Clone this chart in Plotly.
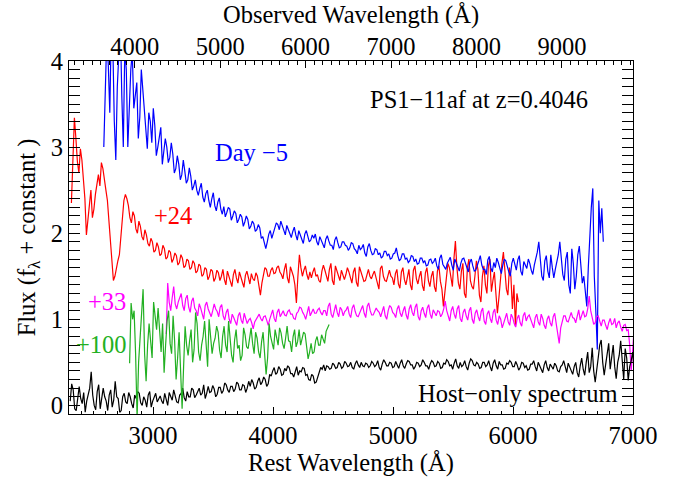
import plotly.graph_objects as go

# ---------------- data ----------------
Z = 0.4046
STEP = 12.5  # Angstrom sampling of the spectra (rest frame)

# rest-frame start wavelengths of each spectrum
blue_start = 2590
red_start = 2320
mag_start = 3110
grn_start = 2805
blk_start = 2310

# fluxes in units of 0.01 (f_lambda + constant); one row = 20 samples = 250 A
blue_flux = [
    300, 380, 430, 395, 340, 440, 420, 330, 285, 370, 430, 445, 360, 300, 415, 390, 300, 350, 390, 410,  # 2590
    345, 360, 375, 310, 335, 390, 365, 340, 320, 298, 340, 330, 305, 345, 325, 290, 300, 315, 323, 280,  # 2840
    295, 310, 300, 282, 288, 305, 292, 270, 275, 290, 280, 262, 268, 285, 272, 258, 262, 276, 266, 250,  # 3090
    255, 262, 250, 244, 252, 258, 242, 236, 246, 250, 238, 230, 240, 247, 232, 226, 236, 241, 228, 222,  # 3340
    231, 219, 224, 230, 228, 215, 220, 226, 223, 212, 216, 222, 219, 208, 213, 220, 216, 205, 208, 214,  # 3590
    211, 202, 204, 210, 206, 194, 196, 188, 182, 190, 199, 203, 194, 200, 206, 212, 210, 204, 214, 208,  # 3840
    203, 198, 209, 204, 199, 195, 202, 207, 198, 192, 203, 199, 193, 188, 199, 203, 196, 190, 192, 198,  # 4090
    194, 199, 190, 186, 196, 192, 188, 183, 193, 197, 191, 186, 186, 181, 192, 196, 189, 183, 184, 190,  # 4340
    190, 186, 185, 180, 183, 189, 188, 182, 180, 176, 186, 181, 183, 187, 177, 173, 184, 188, 180, 175,  # 4590
    176, 182, 181, 175, 177, 171, 173, 179, 179, 174, 176, 170, 171, 176, 177, 183, 174, 168, 170, 176,  # 4840
    176, 170, 171, 166, 168, 174, 173, 167, 170, 164, 165, 171, 171, 166, 168, 162, 163, 169, 170, 165,  # 5090
    167, 171, 162, 158, 171, 175, 164, 160, 158, 165, 168, 172, 163, 157, 170, 166, 161, 156, 165, 170,  # 5340
    171, 165, 160, 155, 166, 170, 162, 156, 157, 164, 168, 174, 163, 158, 158, 152, 169, 173, 160, 155,  # 5590
    166, 160, 171, 166, 158, 153, 163, 170, 168, 160, 155, 150, 165, 171, 162, 157, 169, 174, 156, 151,  # 5840
    167, 162, 159, 170, 165, 157, 152, 163, 170, 178, 190, 168, 150, 145, 168, 174, 156, 148, 175, 160,  # 6090
    148, 158, 166, 175, 190, 165, 152, 145, 170, 178, 140, 130, 182, 165, 135, 150, 175, 185, 160, 142,  # 6340
    150, 135, 115, 160, 198, 230, 252, 150, 110, 65, 238, 200, 229, 190,                                  # 6590
]

red_flux = [
    235, 300, 334, 310, 283, 270, 298, 285, 262, 240, 198, 215, 232, 250, 218, 228, 245, 260, 268, 255,  # 2320
    282, 275, 260, 250, 238, 215, 195, 170, 145, 150, 162, 168, 175, 195, 215, 238, 245, 240, 232, 218,  # 2570
    212, 225, 220, 205, 200, 214, 208, 196, 192, 204, 198, 188, 185, 194, 190, 178, 180, 189, 184, 174,  # 2820
    176, 186, 182, 170, 172, 180, 178, 166, 170, 177, 174, 163, 166, 175, 171, 160, 162, 170, 168, 158,  # 3070
    160, 168, 165, 154, 156, 164, 162, 150, 152, 160, 158, 146, 150, 158, 156, 144, 148, 157, 154, 145,  # 3320
    150, 158, 146, 140, 156, 150, 144, 138, 152, 158, 148, 142, 155, 150, 143, 137, 151, 156, 147, 141,  # 3570
    153, 147, 145, 154, 150, 140, 128, 142, 152, 160, 158, 150, 150, 157, 160, 153, 154, 160, 162, 155,  # 3820
    152, 147, 158, 165, 148, 142, 161, 155, 150, 140, 119, 150, 175, 160, 150, 157, 162, 152, 146, 155,  # 4070
    148, 155, 160, 150, 152, 145, 143, 156, 163, 157, 150, 144, 158, 165, 145, 140, 162, 156, 151, 145,  # 4320
    157, 150, 146, 152, 160, 155, 149, 142, 155, 160, 143, 138, 161, 155, 150, 144, 145, 152, 158, 150,  # 4570
    147, 152, 156, 149, 142, 135, 159, 162, 150, 145, 144, 151, 157, 150, 148, 140, 153, 158, 141, 136,  # 4820
    155, 160, 146, 140, 152, 158, 140, 134, 157, 162, 147, 141, 150, 156, 139, 133, 154, 160, 145, 138,  # 5070
    150, 156, 138, 132, 156, 162, 144, 135, 115, 130, 150, 165, 160, 148, 138, 170, 191, 160, 142, 135,  # 5320
    156, 165, 130, 125, 160, 170, 145, 138, 135, 150, 168, 158, 128, 120, 150, 162, 140, 130, 162, 170,  # 5570
    132, 145, 155, 130, 107, 125, 148, 165, 178, 150, 135, 128, 160, 150, 112, 140, 92, 130, 120,        # 5820
]

mag_flux = [
    83, 142, 120, 110, 125, 138, 118, 112, 120, 126, 130, 116, 110, 124, 128, 114, 108, 121, 125, 113,   # 3110
    110, 104, 118, 113, 106, 100, 116, 120, 112, 106, 103, 110, 118, 112, 109, 103, 114, 117, 104, 99,   # 3360
    108, 112, 100, 95, 106, 102, 97, 93, 104, 108, 99, 95, 107, 102, 95, 99, 101, 96, 89, 97,            # 3610
    100, 104, 106, 101, 98, 103, 104, 99, 93, 100, 106, 111, 101, 97, 108, 112, 103, 107, 110, 105,      # 3860
    104, 109, 111, 106, 106, 101, 100, 107, 109, 114, 113, 108, 105, 100, 110, 115, 104, 109, 112, 107,  # 4110
    107, 111, 113, 108, 105, 110, 110, 104, 115, 119, 106, 102, 112, 117, 108, 103, 114, 111, 104, 109,  # 4360
    111, 115, 106, 102, 113, 117, 109, 104, 103, 108, 112, 116, 107, 102, 115, 119, 110, 105, 105, 110,  # 4610
    113, 110, 108, 103, 111, 115, 104, 100, 110, 116, 114, 108, 106, 102, 112, 116, 107, 103, 110, 115,  # 4860
    105, 100, 112, 117, 108, 104, 114, 118, 103, 99, 110, 114, 107, 102, 113, 117, 106, 101, 111, 107,   # 5110
    104, 110, 109, 103, 106, 112, 121, 110, 103, 98, 110, 115, 106, 101, 112, 116, 101, 97, 108, 112,    # 5360
    104, 99, 110, 114, 100, 95, 107, 111, 103, 98, 109, 113, 98, 94, 106, 110, 101, 96, 108, 112,        # 5610
    99, 94, 104, 100, 90, 96, 103, 107, 97, 93, 106, 102, 95, 91, 101, 105, 96, 92, 104, 108,            # 5860
    98, 103, 105, 99, 94, 90, 102, 106, 97, 93, 106, 101, 93, 89, 100, 104, 96, 92, 103, 107,            # 6110
    95, 85, 72, 90, 99, 104, 104, 98, 97, 103, 108, 102, 101, 96, 106, 111, 99, 104, 110, 103,           # 6360
    104, 112, 127, 110, 100, 94, 96, 103, 104, 97, 92, 99, 99, 93, 88, 96, 101, 94, 95, 101,             # 6610
    90, 96, 98, 91, 86, 93, 94, 87, 88, 70, 40, 65, 90,                                                  # 6860
]

grn_flux = [
    49, 119, 100, 110, 60, -15, 50, 80, 115, 135, 60, 28, 70, 95, 75, 55, 120, 102, 88, 113,  # 2805
    80, 62, 95, 38, 70, 98, 110, 72, 60, 104, 75, 30, 55, 85, 40, -4, 45, 92, 70, 58,         # 3055
    75, 88, 50, 65, 108, 95, 62, 52, 70, 80, 98, 68, 45, 100, 82, 60, 72, 78, 92, 85,         # 3305
    64, 55, 80, 92, 70, 62, 98, 75, 58, 50, 76, 88, 66, 70, 52, 58, 90, 82, 68, 66,           # 3555
    80, 90, 72, 60, 85, 78, 62, 55, 74, 85, 60, 36, 55, 95, 80, 72, 65, 88, 76, 70,           # 3805
    90, 84, 72, 66, 78, 92, 75, 74, 62, 80, 88, 68, 74, 88, 70, 76, 85, 83, 64, 54,           # 4055
    62, 72, 60, 62, 75, 80, 70, 70, 82, 78, 72, 86, 90, 94,                                   # 4305
]

blk_flux = [
    5, 25, 18, -4, -6, 10, 22, 8, 2, 15, -8, 5, 12, 20, 39, 12, 0, -5, 16, 24,      # 2310
    -4, 8, 20, 10, 5, -6, 12, 18, -2, 6, 28, 10, 8, -8, -6, 10, 14, 4, 2, 15,       # 2560
    10, 2, -3, 12, 8, 16, 14, 3, 0, 10, 6, -2, 12, 16, -2, 5, 9, 14, 4, 8,          # 2810
    11, 5, 2, 14, 8, 0, 15, 9, 6, 18, 12, 4, 3, 12, 14, 20, 9, 5, 16, 10,           # 3060
    10, 20, 18, 9, 12, 16, 20, 12, 14, 24, 8, 14, 22, 15, 16, 23, 19, 10, 13, 21,   # 3310
    21, 14, 17, 26, 24, 18, 15, 22, 22, 16, 19, 27, 25, 18, 18, 24, 23, 15, 20, 28, # 3560
    22, 30, 26, 19, 21, 28, 32, 24, 27, 33, 30, 22, 25, 36, 34, 40, 44, 36, 38, 45, # 3810
    42, 35, 36, 43, 40, 46, 44, 37, 37, 33, 41, 45, 35, 40, 39, 44, 43, 35, 36, 30, # 4060
    29, 36, 34, 26, 27, 33, 38, 44, 42, 47, 40, 46, 45, 42, 43, 49, 47, 43, 44, 50, # 4310
    48, 43, 45, 51, 49, 45, 46, 50, 44, 42, 48, 52, 47, 44, 50, 46, 45, 49, 48, 44, # 4560
    46, 51, 49, 45, 47, 52, 44, 41, 48, 53, 50, 46, 46, 50, 49, 44, 45, 51, 47, 43, # 4810
    49, 53, 46, 43, 48, 52, 51, 47, 47, 42, 45, 50, 49, 45, 47, 53, 50, 46, 46, 42, # 5060
    48, 52, 50, 45, 46, 51, 49, 43, 44, 49, 48, 53, 51, 46, 47, 42, 49, 54, 46, 43, # 5310
    50, 45, 47, 52, 45, 41, 49, 54, 52, 47, 46, 50, 48, 43, 44, 50, 50, 45, 47, 52, # 5560
    45, 40, 49, 53, 46, 42, 51, 47, 47, 42, 43, 49, 48, 52, 50, 45, 45, 51, 47, 41, # 5810
    44, 50, 49, 44, 46, 41, 42, 48, 48, 52, 45, 40, 50, 46, 43, 38, 47, 52, 44, 40, # 6060
    48, 44, 42, 49, 46, 40, 39, 45, 47, 52, 44, 38, 49, 45, 41, 36, 45, 50, 38, 33, # 6310
    46, 55, 42, 35, 50, 62, 38, 45, 67, 40, 27, 45, 55, 70, 76, 50, 35, 48, 60, 72, # 6560
    42, 55, 70, 45, 31, 50, 58, 75, 48, 30, 66, 55, 29, 45, 52, 62, 40, 48,         # 6810
]

labels = ["Day \u22125", "+24", "+33", "+100", "Host\u2212only spectrum"]
title_text = "PS1\u221211af at z=0.4046"
rest_ticks = [3000, 4000, 5000, 6000, 7000]
obs_ticks = [4000, 5000, 6000, 7000, 8000, 9000]
flux_ticks = [0, 1, 2, 3, 4]
x_range = [2300, 7000]
y_range = [-0.1, 4.0]


def wl(start, n):
    return [start + STEP * i for i in range(n)]


def fx(vals):
    return [v / 100.0 for v in vals]


FONT = "Liberation Serif, Times New Roman, serif"
FS = 24.5

fig = go.Figure()
series = [
    (red_start, red_flux, "#FF0000"),
    (blue_start, blue_flux, "#0000FF"),
    (mag_start, mag_flux, "#FF00FF"),
    (blk_start, blk_flux, "#000000"),
    (grn_start, grn_flux, "#22B022"),
]
for start, vals, col in series:
    fig.add_trace(go.Scatter(x=wl(start, len(vals)), y=fx(vals), mode="lines",
                             line=dict(color=col, width=1.2), showlegend=False,
                             hoverinfo="skip"))

# invisible helper trace to carry the observed-wavelength (top) axis
fig.add_trace(go.Scatter(x=[w * (1 + Z) for w in wl(blk_start, len(blk_flux))],
                         y=fx(blk_flux), xaxis="x2", mode="lines",
                         line=dict(width=0, color="rgba(0,0,0,0)"),
                         showlegend=False, hoverinfo="skip"))

axis_common = dict(showgrid=False, zeroline=False, color="black",
                   tickfont=dict(family=FONT, size=FS, color="black"))

fig.update_layout(
    width=675, height=483,
    margin=dict(l=69, r=42, t=61, b=62),
    paper_bgcolor="white", plot_bgcolor="white",
    font=dict(family=FONT, size=FS, color="black"),
    xaxis=dict(range=x_range, tickvals=rest_ticks, ticks="inside", ticklen=7,
               tickwidth=1, showline=True, linecolor="black", linewidth=1,
               mirror=True,
               minor=dict(dtick=100, ticks="inside", ticklen=3.5, tickcolor="black"),
               title=dict(text="Rest Wavelength (\u00c5)", font=dict(family=FONT, size=FS),
                          standoff=4),
               **axis_common),
    xaxis2=dict(range=[x_range[0] * (1 + Z), x_range[1] * (1 + Z)], overlaying="x",
                side="top", anchor="y", tickvals=obs_ticks, ticks="inside", ticklen=7,
                tickwidth=1, showline=False,
                minor=dict(dtick=100, ticks="inside", ticklen=3.5, tickcolor="black"),
                title=dict(text="Observed Wavelength (\u00c5)", font=dict(family=FONT, size=FS),
                           standoff=2),
                **axis_common),
    yaxis=dict(range=y_range, tickvals=flux_ticks, ticks="inside", ticklen=11,
               tickwidth=1, showline=True, linecolor="black", linewidth=1,
               mirror="allticks",
               minor=dict(dtick=0.1, ticks="inside", ticklen=5.5, tickcolor="black"),
               title=dict(text="Flux (f<sub>\u03bb</sub> + constant )",
                          font=dict(family=FONT, size=FS), standoff=8),
               **axis_common),
)

ann = [
    dict(x=5716, y=3.55, text=title_text, xanchor="center", color="black"),
    dict(x=3498, y=2.94, text=labels[0], xanchor="left", color="#0000FF"),
    dict(x=2990, y=2.21, text=labels[1], xanchor="left", color="#FF0000"),
    dict(x=2440, y=1.21, text=labels[2], xanchor="left", color="#FF00FF"),
    dict(x=2340, y=0.71, text=labels[3], xanchor="left", color="#22B022"),
    dict(x=6890, y=0.135, text=labels[4], xanchor="right", color="black"),
]
for a in ann:
    fig.add_annotation(x=a["x"], y=a["y"], xref="x", yref="y", text=a["text"],
                       xanchor=a["xanchor"], yanchor="middle", showarrow=False,
                       font=dict(family=FONT, size=FS, color=a["color"]))

fig.write_html("out.html")
